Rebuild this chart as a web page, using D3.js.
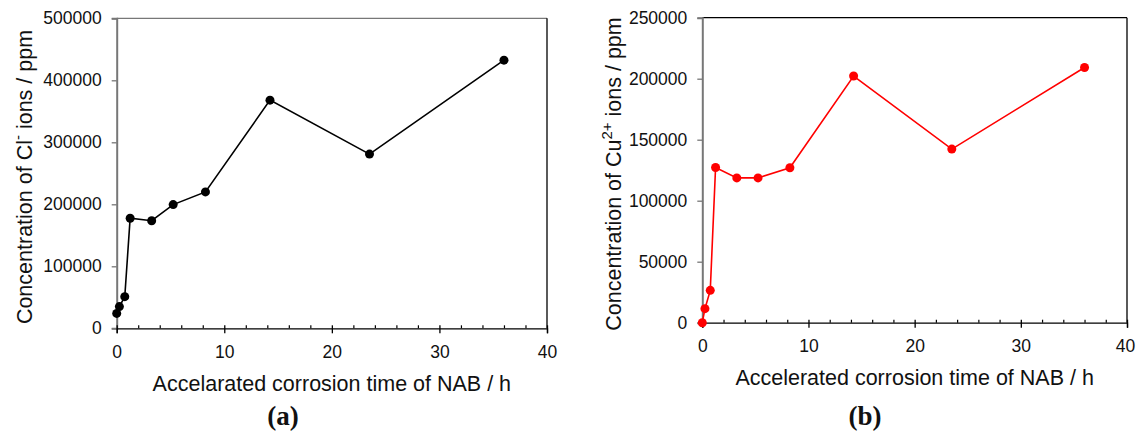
<!DOCTYPE html>
<html>
<head>
<meta charset="utf-8">
<script src="https://cdn.jsdelivr.net/npm/d3@7"></script>
<style>
  html, body { margin: 0; padding: 0; background: #fff; }
  svg text { font-family: "Liberation Sans", Arial, sans-serif; fill: #111; }
</style>
</head>
<body>
<svg id="chart" width="1136" height="434"></svg>
<script>
// ---- data ----
const timeCl = [0, 0.25, 0.75, 1.25, 3.25, 5.25, 8.25, 14.25, 23.5, 36];
const clValues = [24000, 35000, 51000, 177500, 173500, 199500, 220000, 368000, 281000, 432500];
const timeCu = [0, 0.25, 0.75, 1.25, 3.25, 5.25, 8.25, 14.25, 23.5, 36];
const cuValues = [0, 11500, 26500, 127200, 118700, 118700, 127000, 202200, 142300, 209200];
const xTicks = [0, 10, 20, 30, 40];
const xMinorTicks = [2, 4, 6, 8, 12, 14, 16, 18, 22, 24, 26, 28, 32, 34, 36, 38];
const yTicksCl = [0, 100000, 200000, 300000, 400000, 500000];
const yTicksCu = [0, 50000, 100000, 150000, 200000, 250000];

const svg = d3.select("#chart");

function panel(opts) {
  const g = svg.append("g");
  const x = d3.scaleLinear().domain([0, 40]).range([opts.left, opts.right]);
  const y = d3.scaleLinear().domain([0, opts.yMax]).range([opts.bottom, opts.top]);

  g.append("line").attr("x1", opts.left).attr("x2", opts.right)
    .attr("y1", opts.top).attr("y2", opts.top)
    .attr("stroke", opts.topColor).attr("stroke-width", 1.3);
  g.append("line").attr("x1", opts.right).attr("x2", opts.right)
    .attr("y1", opts.top).attr("y2", opts.bottom)
    .attr("stroke", "#000").attr("stroke-width", 1.3);

  const yAxis = d3.axisLeft(y).tickValues(opts.yTicks).tickSize(5).tickPadding(10)
    .tickFormat(d3.format("d"));
  const ya = g.append("g").attr("transform", `translate(${opts.left},0)`).call(yAxis);
  ya.select(".domain").attr("stroke", "#777").attr("stroke-width", 2);
  ya.selectAll(".tick line").attr("stroke", "#777").attr("stroke-width", 1.3);
  ya.selectAll("text").style("font-size", "17.5px").attr("fill", "#111")
    .style("font-family", "Liberation Sans, Arial, sans-serif");

  const xAxis = d3.axisBottom(x).tickValues(xTicks).tickSize(5).tickPadding(12)
    .tickFormat(d3.format("d"));
  const xa = g.append("g").attr("transform", `translate(0,${opts.bottom})`).call(xAxis);
  xa.select(".domain").attr("stroke", "#000").attr("stroke-width", 1.3);
  xa.selectAll(".tick line").attr("stroke", "#000").attr("stroke-width", 1.3)
    .attr("y1", -3);
  xa.selectAll("text").style("font-size", "17.5px").attr("fill", "#111")
    .style("font-family", "Liberation Sans, Arial, sans-serif")
    .attr("dx", d => (d === 40 ? opts.lastShift : 0));

  const xm = d3.axisTop(x).tickValues(xMinorTicks).tickSize(3).tickFormat("");
  const xma = g.append("g").attr("transform", `translate(0,${opts.bottom})`).call(xm);
  xma.select(".domain").remove();
  xma.selectAll(".tick line").attr("stroke", "#000").attr("stroke-width", 1.2);

  const pts = opts.t.map((t, i) => [t, opts.v[i]]);
  g.append("path").datum(pts)
    .attr("fill", "none").attr("stroke", opts.color).attr("stroke-width", 1.6)
    .attr("d", d3.line().x(d => x(d[0])).y(d => y(d[1])));
  g.selectAll("circle.pt").data(pts).enter().append("circle")
    .attr("class", "pt")
    .attr("cx", d => x(d[0])).attr("cy", d => y(d[1])).attr("r", 4.5)
    .attr("fill", opts.color);

  g.append("text").attr("x", (opts.left + opts.right) / 2).attr("y", opts.xTitleY)
    .attr("text-anchor", "middle").style("font-size", "21.5px").text(opts.xTitle);

  const yt = g.append("text")
    .attr("transform", `translate(${opts.yTitleX},${opts.yTitleCY}) rotate(-90)`)
    .attr("text-anchor", "middle").style("font-size", "21.5px");
  opts.yTitleParts.forEach(p => {
    const ts = yt.append("tspan").text(p.text);
    if (p.sup) ts.attr("dy", -9).style("font-size", "15px");
    if (p.after) ts.attr("dy", 9);
  });

  g.append("text").attr("x", opts.capX).attr("y", 425)
    .attr("text-anchor", "middle")
    .style("font-family", "Liberation Serif, 'Times New Roman', serif")
    .style("font-size", "27px").style("font-weight", "bold")
    .text("(" + opts.capLetter + ")");
}

panel({
  left: 116.7, right: 547, top: 18.3, bottom: 328.3, yMax: 500000,
  yTicks: yTicksCl, t: timeCl, v: clValues, color: "#000", topColor: "#777",
  xTitle: "Accelarated corrosion time of NAB / h", xTitleY: 391,
  yTitleX: 32, yTitleCY: 177, lastShift: 0,
  yTitleParts: [{text: "Concentration of Cl"}, {text: "-", sup: true}, {text: " ions / ppm", after: true}],
  capX: 283, capLetter: "a"
});

panel({
  left: 702.3, right: 1127, top: 17.7, bottom: 322.7, yMax: 250000,
  yTicks: yTicksCu, t: timeCu, v: cuValues, color: "#ff0000", topColor: "#000",
  xTitle: "Accelerated corrosion time of NAB / h", xTitleY: 385,
  yTitleX: 621, yTitleCY: 174, lastShift: -2,
  yTitleParts: [{text: "Concentration of Cu"}, {text: "2+", sup: true}, {text: " ions / ppm", after: true}],
  capX: 865, capLetter: "b"
});
</script>
</body>
</html>
